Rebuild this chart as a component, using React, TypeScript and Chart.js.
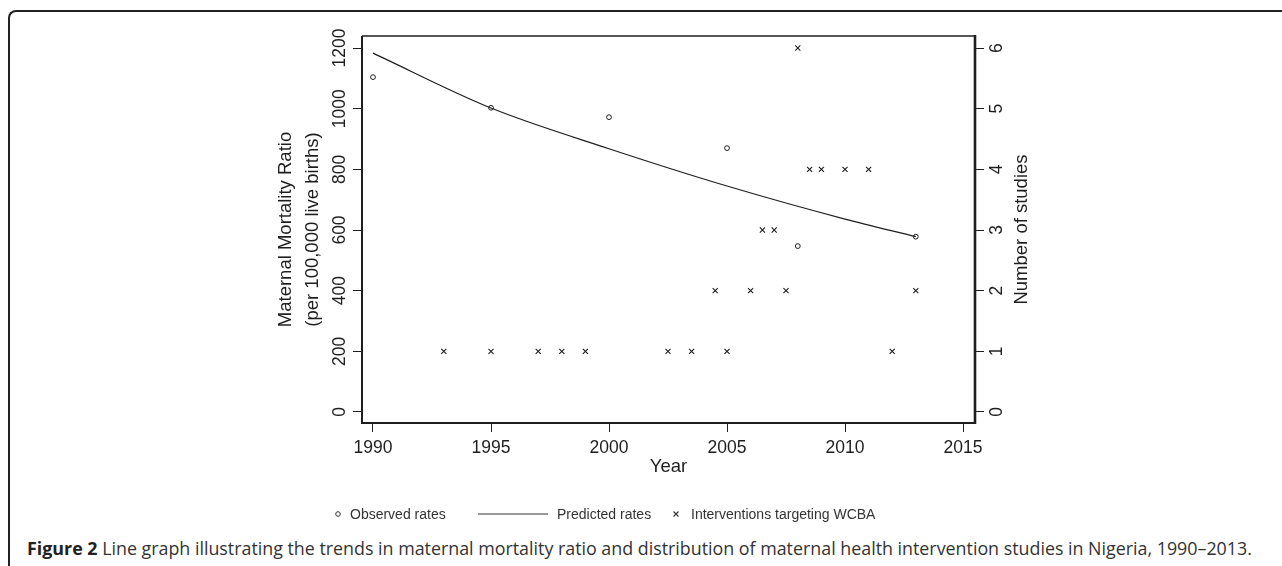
import React, { useEffect, useLayoutEffect, useRef } from "react";
import { Chart, registerables } from "chart.js";

Chart.register(...registerables);

// ---------- data ----------
const OBS_YEARS = [1990, 1995, 2000, 2005, 2008, 2013];
const OBS_RATES = [1104, 1003, 972, 870, 547, 578];

const PRED_YEARS = [1990, 1995, 2000, 2005, 2010, 2013];
const PRED_RATES = [1183, 1002, 868, 745, 636, 578];

const INT_YEARS = [1993, 1995, 1997, 1998, 1999, 2002.5, 2003.5, 2004.5, 2005, 2006, 2006.5, 2007, 2007.5, 2008, 2008.5, 2009, 2010, 2011, 2012, 2013];
const INT_COUNTS = [1, 1, 1, 1, 1, 1, 1, 2, 1, 2, 3, 3, 2, 6, 4, 4, 4, 4, 1, 2];

const X_TICKS = [1990, 1995, 2000, 2005, 2010, 2015];
const MMR_TICKS = [0, 200, 400, 600, 800, 1000, 1200];
const STUDY_TICKS = [0, 1, 2, 3, 4, 5, 6];

const LEGEND_LABELS = ["Observed rates", "Predicted rates", "Interventions targeting WCBA"];
const X_TITLE = "Year";
const Y_TITLE_1 = "Maternal Mortality Ratio";
const Y_TITLE_2 = "(per 100,000 live births)";
const Y1_TITLE = "Number of studies";
const CAPTION_BOLD = "Figure 2";
const CAPTION_TEXT = " Line graph illustrating the trends in maternal mortality ratio and distribution of maternal health intervention studies in Nigeria, 1990–2013.";

// ---------- style ----------
const INK = "#1e1e1e";
const FONT = "'Liberation Sans', Arial, sans-serif";
const TICK_SIZE = 17.5;
const TITLE_SIZE = 18.5;
const CANVAS_W = 1282;
const CANVAS_H = 530;
const AREA = { left: 362, right: 975, top: 36, bottom: 423 };

const textPlugin = {
  id: "customText",
  afterDraw(chart: any) {
    const ctx = chart.ctx as CanvasRenderingContext2D;
    const xs = chart.scales.x;
    const ys = chart.scales.y;
    const y1s = chart.scales.y1;
    const ca = chart.chartArea;
    ctx.save();
    ctx.strokeStyle = INK;
    ctx.lineCap = "butt";
    // box
    ctx.lineWidth = 1.3;
    ctx.beginPath(); ctx.moveTo(ca.left, ca.top); ctx.lineTo(ca.right, ca.top); ctx.stroke();
    ctx.lineWidth = 2;
    ctx.beginPath(); ctx.moveTo(ca.left, ca.top); ctx.lineTo(ca.left, ca.bottom + 1); ctx.stroke();
    ctx.beginPath(); ctx.moveTo(ca.left - 1, ca.bottom); ctx.lineTo(ca.right + 1, ca.bottom); ctx.stroke();
    ctx.lineWidth = 2.6;
    ctx.beginPath(); ctx.moveTo(ca.right, ca.top - 1); ctx.lineTo(ca.right, ca.bottom + 1); ctx.stroke();

    ctx.fillStyle = INK;
    const cap = (s: number) => s * 0.716;

    // x labels
    ctx.font = `${TICK_SIZE}px ${FONT}`;
    ctx.textAlign = "center";
    ctx.textBaseline = "alphabetic";
    X_TICKS.forEach((v) => ctx.fillText(String(v), xs.getPixelForValue(v), 453));

    // rotated y labels
    const rotText = (t: string, cx: number, cy: number, size: number, baselineX?: number) => {
      ctx.save();
      ctx.font = `${size}px ${FONT}`;
      ctx.translate(baselineX !== undefined ? baselineX : cx + cap(size) / 2, cy);
      ctx.rotate(-Math.PI / 2);
      ctx.textAlign = "center";
      ctx.textBaseline = "alphabetic";
      ctx.fillText(t, 0, 0);
      ctx.restore();
    };
    MMR_TICKS.forEach((v) => rotText(String(v), 338.5, ys.getPixelForValue(v), TICK_SIZE));
    STUDY_TICKS.forEach((v) => rotText(String(v), 995.5, y1s.getPixelForValue(v), TICK_SIZE));

    const midY = (ca.top + ca.bottom) / 2;
    rotText(Y_TITLE_1, 0, midY, TITLE_SIZE, 290.5);
    rotText(Y_TITLE_2, 0, midY, TITLE_SIZE, 318);
    rotText(Y1_TITLE, 0, midY, TITLE_SIZE, 1026.5);

    ctx.font = `${TITLE_SIZE}px ${FONT}`;
    ctx.textAlign = "center";
    ctx.fillText(X_TITLE, (ca.left + ca.right) / 2, 472);

    // legend
    const ly = 514;
    ctx.font = `14px ${FONT}`;
    ctx.fillStyle = "#333";
    ctx.strokeStyle = "#333";
    ctx.textAlign = "left";
    ctx.textBaseline = "alphabetic";
    ctx.lineWidth = 1;
    ctx.beginPath(); ctx.arc(338, ly, 2.3, 0, Math.PI * 2); ctx.stroke();
    ctx.fillText(LEGEND_LABELS[0], 350, 518.5);
    ctx.lineWidth = 1.2;
    ctx.beginPath(); ctx.moveTo(478, ly); ctx.lineTo(548, ly); ctx.stroke();
    ctx.fillText(LEGEND_LABELS[1], 557, 518.5);
    ctx.lineWidth = 1.1;
    ctx.beginPath();
    ctx.moveTo(673.5, ly - 2.5); ctx.lineTo(678.5, ly + 2.5);
    ctx.moveTo(678.5, ly - 2.5); ctx.lineTo(673.5, ly + 2.5);
    ctx.stroke();
    ctx.fillText(LEGEND_LABELS[2], 691, 518.5);
    ctx.restore();
  },
};

const fixedTicks = (vals: number[]) => (scale: any) => {
  scale.ticks = vals.map((v) => ({ value: v }));
};

export default function App() {
  const canvasRef = useRef<HTMLCanvasElement | null>(null);
  const capRef = useRef<HTMLSpanElement | null>(null);

  useEffect(() => {
    if (!canvasRef.current) return;
    const chart = new Chart(canvasRef.current, {
      type: "scatter",
      data: {
        datasets: [
          {
            label: LEGEND_LABELS[0],
            data: OBS_YEARS.map((x, i) => ({ x, y: OBS_RATES[i] })),
            yAxisID: "y",
            pointStyle: "circle",
            pointRadius: 2.4,
            pointBorderWidth: 1,
            borderColor: INK,
            backgroundColor: "rgba(0,0,0,0)",
            showLine: false,
          },
          {
            label: LEGEND_LABELS[1],
            type: "line",
            data: PRED_YEARS.map((x, i) => ({ x, y: PRED_RATES[i] })),
            yAxisID: "y",
            borderColor: INK,
            borderWidth: 1.2,
            pointRadius: 0,
            cubicInterpolationMode: "monotone",
            fill: false,
          } as any,
          {
            label: LEGEND_LABELS[2],
            data: INT_YEARS.map((x, i) => ({ x, y: INT_COUNTS[i] })),
            yAxisID: "y1",
            pointStyle: "crossRot",
            pointRadius: 3.6,
            pointBorderWidth: 1.1,
            borderColor: INK,
            backgroundColor: INK,
            showLine: false,
          },
        ],
      },
      options: {
        responsive: false,
        animation: false,
        layout: { padding: { top: AREA.top, left: 0, right: 0, bottom: 0 } },
        plugins: { legend: { display: false }, tooltip: { enabled: false } },
        scales: {
          x: {
            type: "linear",
            min: 1989.534,
            max: 2015.508,
            afterBuildTicks: fixedTicks(X_TICKS),
            afterFit: (s: any) => { s.height = CANVAS_H - AREA.bottom; },
            ticks: { display: false },
            border: { display: false },
            grid: { drawOnChartArea: false, drawTicks: true, tickLength: 9, color: INK, lineWidth: 1 },
          },
          y: {
            type: "linear",
            position: "left",
            min: -36.3,
            max: 1239.6,
            afterBuildTicks: fixedTicks(MMR_TICKS),
            afterFit: (s: any) => { s.width = AREA.left; },
            ticks: { display: false },
            border: { display: false },
            grid: { drawOnChartArea: false, drawTicks: true, tickLength: 9, color: INK, lineWidth: 1 },
          },
          y1: {
            type: "linear",
            position: "right",
            min: -0.1815,
            max: 6.198,
            afterBuildTicks: fixedTicks(STUDY_TICKS),
            afterFit: (s: any) => { s.width = CANVAS_W - AREA.right; },
            ticks: { display: false },
            border: { display: false },
            grid: { drawOnChartArea: false, drawTicks: true, tickLength: 9, color: INK, lineWidth: 1 },
          },
        },
      } as any,
      plugins: [textPlugin],
    });
    return () => chart.destroy();
  }, []);

  useLayoutEffect(() => {
    const fit = () => {
      const el = capRef.current;
      if (!el) return;
      el.style.transform = "none";
      const w = el.offsetWidth;
      if (w > 0) el.style.transform = `scaleX(${1225 / w})`;
    };
    fit();
    if ((document as any).fonts && (document as any).fonts.ready) {
      (document as any).fonts.ready.then(fit);
    }
  }, []);

  return (
    <div style={{ position: "absolute", left: 0, top: 0, width: CANVAS_W, height: 566, overflow: "hidden", background: "#fff" }}>
      <div
        style={{
          position: "absolute",
          left: 8,
          top: 10,
          width: 1300,
          height: 600,
          borderTop: "2px solid #222",
          borderLeft: "2.5px solid #222",
          borderTopLeftRadius: 8,
          boxSizing: "border-box",
        }}
      />
      <canvas ref={canvasRef} width={CANVAS_W} height={CANVAS_H} style={{ position: "absolute", left: 0, top: 0, width: CANVAS_W, height: CANVAS_H }} />
      <span
        ref={capRef}
        style={{
          position: "absolute",
          left: 27,
          top: 538,
          whiteSpace: "nowrap",
          transformOrigin: "left center",
          fontFamily: "'Open Sans', 'Noto Sans', sans-serif",
          fontSize: 17.5,
          lineHeight: "20px",
          color: "#333",
        }}
      >
        <b style={{ color: "#222" }}>{CAPTION_BOLD}</b>
        {CAPTION_TEXT}
      </span>
    </div>
  );
}
